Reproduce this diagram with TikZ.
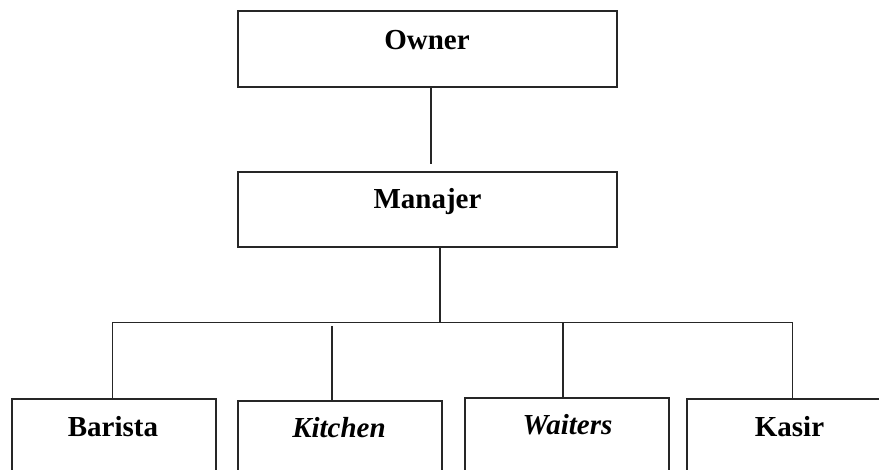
\documentclass[tikz,border=0pt]{standalone}
\usepackage{fontspec}
\setmainfont{Liberation Serif}
\begin{document}
\begin{tikzpicture}[x=1pt,y=-1pt,line width=1.1pt,
  box/.style={draw=black!85,rectangle,inner sep=0pt},
  lbl/.style={anchor=base,inner sep=0pt,font=\fontsize{29}{34}\selectfont\bfseries},
  conn/.style={draw=black!85,line width=1.1pt}]
\useasboundingbox (0,0) rectangle (879,470);
\clip (0,0) rectangle (879,470);
% boxes
\node[box,minimum width=379pt,minimum height=76pt] (owner) at (427.5,49) {};
\node[box,minimum width=379pt,minimum height=75pt] (manajer) at (427.5,209.5) {};
\node[box,minimum width=204pt,minimum height=131pt] (barista) at (114,464.5) {};
\node[box,minimum width=204pt,minimum height=129pt] (kitchen) at (340,465.5) {};
\node[box,minimum width=204pt,minimum height=132pt] (waiters) at (567,464) {};
\node[box,minimum width=205pt,minimum height=131pt] (kasir) at (789.5,464.5) {};
% labels
\node[lbl] (tOwner) at (427,50) {Owner};
\node[lbl] (tManajer) at (427.5,209) {Manajer};
\node[lbl] (tBarista) at (113,437) {Barista};
\node[lbl] (tKitchen) at (339,438) {\itshape Kitchen};
\node[lbl] (tWaiters) at (567.5,435) {\itshape Waiters};
\node[lbl] (tKasir) at (789.5,437) {Kasir};
% connectors
\coordinate (o1) at (431,164);
\coordinate (m1) at (440,322.5);
\coordinate (hl) at (112.5,322.5);
\coordinate (hr) at (792.5,322.5);
\coordinate (k1) at (332,326);
\coordinate (w1) at (563,323);
\draw[conn] (owner.south -| o1) -- (o1);
\draw[conn] (manajer.south -| m1) -- (m1);
\draw[conn] (hl) -- (hr);
\draw[conn] (hl) -- (barista.north -| hl);
\draw[conn] (k1) -- (kitchen.north -| k1);
\draw[conn] (w1) -- (waiters.north -| w1);
\draw[conn] (hr) -- (kasir.north -| hr);
\end{tikzpicture}
\end{document}
